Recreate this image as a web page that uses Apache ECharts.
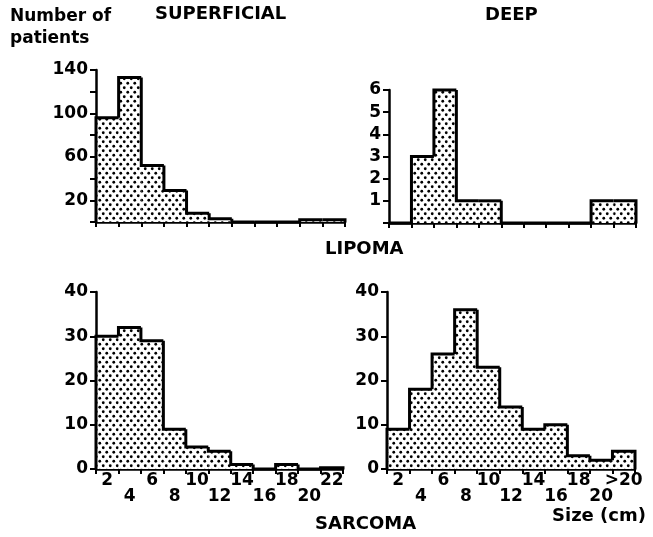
<!DOCTYPE html>
<html>
<head>
<meta charset="utf-8">
<title>Lipoma / Sarcoma size</title>
<script src="https://cdn.jsdelivr.net/npm/echarts@6/dist/echarts.min.js"></script>
</head>
<body style="margin:0;background:#fff">
<div id="main" style="width:653px;height:537px;"></div>
<script type="text/javascript">
// size bins (cm)
var sizesA = ['2','4','6','8','10','12','14','16','18','20','22'];
var sizesB = ['2','4','6','8','10','12','14','16','18','20','>20'];

// number of patients
var lipomaSuperficial = [96, 133, 52, 29, 8, 3, 0, 0, 0, 2, 2];
var lipomaDeep        = [0, 3, 6, 1, 1, 0, 0, 0, 0, 1, 1];
var sarcomaSuperficial= [30, 32, 29, 9, 5, 4, 1, 0, 1, 0, 0.3];
var sarcomaDeep       = [9, 18, 26, 36, 23, 14, 9, 10, 3, 2, 4];

var FONT = '"DejaVu Sans", sans-serif';

// dotted fill
function dots(){
    var c = document.createElement('canvas');
    c.width = 7; c.height = 9;
    var g = c.getContext('2d');
    g.fillStyle = '#fff';
    g.fillRect(0, 0, 7, 9);
    g.fillStyle = '#000';
    g.beginPath(); g.arc(1.75, 2.25, 1.4, 0, Math.PI*2); g.fill();
    g.beginPath(); g.arc(5.25, 6.75, 1.4, 0, Math.PI*2); g.fill();
    return c;
}
var pattern = {image: dots(), repeat: 'repeat'};

// step outline of the histogram
function outlineData(vals){
    return vals.map(function(v, i){
        return [i, v, i == 0 ? 0 : vals[i-1], i == vals.length-1 ? 1 : 0];
    });
}
function renderOutline(params, api){
    var i = api.value(0), v = api.value(1), p = api.value(2), last = api.value(3);
    var w = api.size([1, 0])[0];
    var top = api.coord([i, v]);
    var prev = api.coord([i, p]);
    var x0 = top[0] - w/2, x1 = top[0] + w/2;
    var pts = [[x0, prev[1]], [x0, top[1]], [x1, top[1]]];
    if(last){
        pts.push([x1, api.coord([i, 0])[1]]);
    }
    return {type: 'polyline', shape: {points: pts},
            style: {stroke: '#000', lineWidth: 3, fill: null}};
}

function xAxisOf(idx, labels, show){
    return {
        type: 'category', gridIndex: idx, data: labels,
        boundaryGap: true,
        axisLine: {lineStyle: {color: '#000', width: 2.5}},
        axisTick: {show: true, length: 5, lineStyle: {color: '#000', width: 2}},
        axisLabel: {
            show: show, interval: 0, margin: 3,
            color: '#000', fontFamily: FONT, fontWeight: 'bold', fontSize: 17,
            formatter: function(v, i){ return i % 2 == 0 ? '{up|' + v + '}' : '{lo|' + v + '}'; },
            rich: {
                up: {fontFamily: FONT, fontWeight: 'bold', fontSize: 17, color: '#000'},
                lo: {fontFamily: FONT, fontWeight: 'bold', fontSize: 17, color: '#000', padding: [16, 0, 0, 0]}
            }
        },
        splitLine: {show: false}
    };
}
function yAxisOf(idx, max, interval, fmt){
    return {
        type: 'value', gridIndex: idx, min: 0, max: max, interval: interval,
        axisLine: {show: true, lineStyle: {color: '#000', width: 2.5}},
        axisTick: {show: true, length: 6, lineStyle: {color: '#000', width: 2}},
        axisLabel: {margin: 8, color: '#000', fontFamily: FONT, fontWeight: 'bold', fontSize: 17, formatter: fmt},
        splitLine: {show: false}
    };
}

var panels = [lipomaSuperficial, lipomaDeep, sarcomaSuperficial, sarcomaDeep];
var series = [];
panels.forEach(function(vals, k){
    series.push({
        type: 'bar', xAxisIndex: k, yAxisIndex: k, data: vals,
        barCategoryGap: '0%', silent: true,
        itemStyle: {color: pattern}
    });
    series.push({
        type: 'custom', xAxisIndex: k, yAxisIndex: k,
        data: outlineData(vals), renderItem: renderOutline, silent: true, z: 5
    });
});

var myChart = echarts.init(document.getElementById('main'));
var option = {
    animation: false,
    backgroundColor: '#fff',
    grid: [
        {left: 96, top: 70, width: 249, height: 152},
        {left: 389, top: 90, width: 247, height: 133},
        {left: 96, top: 292, width: 247, height: 177},
        {left: 387, top: 292, width: 248, height: 177}
    ],
    xAxis: [
        xAxisOf(0, sizesA, false),
        xAxisOf(1, sizesA, false),
        xAxisOf(2, sizesA, true),
        xAxisOf(3, sizesB, true)
    ],
    yAxis: [
        yAxisOf(0, 140, 20, function(v){ return v % 40 == 20 ? v : ''; }),
        yAxisOf(1, 6, 1, function(v){ return v > 0 ? v : ''; }),
        yAxisOf(2, 40, 10, null),
        yAxisOf(3, 40, 10, null)
    ],
    graphic: [
        {type: 'text', left: 10, top: 6, style: {text: 'Number of\npatients', font: 'bold 17px ' + FONT, fill: '#000', lineHeight: 22}},
        {type: 'text', left: 155, top: 5, style: {text: 'SUPERFICIAL', font: 'bold 18px ' + FONT, fill: '#000'}},
        {type: 'text', left: 485, top: 6, style: {text: 'DEEP', font: 'bold 18px ' + FONT, fill: '#000'}},
        {type: 'text', left: 325, top: 240, style: {text: 'LIPOMA', font: 'bold 18px ' + FONT, fill: '#000'}},
        {type: 'text', left: 315, top: 515, style: {text: 'SARCOMA', font: 'bold 18px ' + FONT, fill: '#000'}},
        {type: 'text', left: 552, top: 507, style: {text: 'Size (cm)', font: 'bold 18px ' + FONT, fill: '#000'}}
    ],
    series: series
};
myChart.setOption(option);
</script>
</body>
</html>
